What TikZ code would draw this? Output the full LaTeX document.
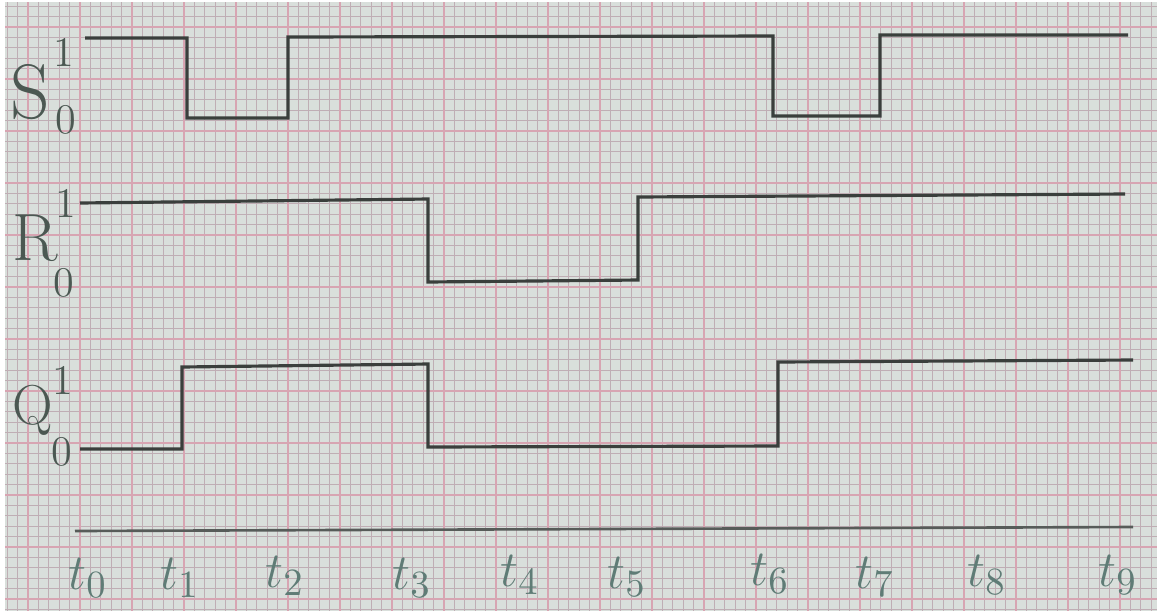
\documentclass[tikz,border=0pt]{standalone}
\usepackage{tikz}
\usetikzlibrary{positioning}
\definecolor{Paper}{HTML}{D9DFDB}
\definecolor{GridFine}{HTML}{BFAEB4}
\definecolor{GridBold}{HTML}{D7A5B2}
\definecolor{Ink}{HTML}{3A3F3C}
\definecolor{LabelInk}{HTML}{4B5852}
\definecolor{TimeInk}{HTML}{5F7C76}

\begin{document}
\begin{tikzpicture}[
  x=0.01cm, y=-0.01cm,
  wave/.style={line width=0.9pt, Ink, line join=miter},
  axisline/.style={line width=0.75pt, Ink!85},
  signame/.style={LabelInk, inner sep=0pt},
  level/.style={font=\fontsize{12}{12}\selectfont, LabelInk, inner sep=0pt},
  tick/.style={font=\fontsize{15}{15}\selectfont, TimeInk, inner sep=0pt}
]
\useasboundingbox (0,0) rectangle (1157,611);
\fill[white] (0,0) rectangle (1157,611);
\fill[Paper] (5,2) rectangle (1157,611);

% graph paper
\foreach \i in {0,...,110}
  \draw[GridFine, line width=0.3pt] ({7.2+10.4*\i},2) -- ++(0,609);
\foreach \j in {0,...,58}
  \draw[GridFine, line width=0.3pt] (5,{6.2+10.4*\j}) -- ++(1152,0);
\foreach \x in {28,80,...,1150}
  \draw[GridBold, line width=0.5pt] (\x,2) -- ++(0,609);
\foreach \y in {27,79,...,600}
  \draw[GridBold, line width=0.5pt] (5,\y) -- ++(1152,0);

% signal names and levels
\node[signame, font=\fontsize{22}{22}\selectfont] (S) at (30,92) {S};
\node[level] (S1) at (64,52) {1};
\node[level] (S0) at (66,120) {0};

\node[signame, font=\fontsize{19}{19}\selectfont] (R) at (35,238) {R};
\node[level] (R1) at (66,203) {1};
\node[level] (R0) at (64,283) {0};

\node[signame, font=\fontsize{16}{16}\selectfont] (Q) at (33,410) {Q};
\node[level] (Q1) at (63,380) {1};
\node[level] (Q0) at (62,452) {0};

% waveforms
\draw[wave] (85,38) -- (187,38) -- (187,118) -- (288,118) -- (288,37)
  -- (773,36) -- (773,116) -- (880,116) -- (880,35) -- (1128,35);
\draw[wave] (80,203) -- (428,199) -- (428,282) -- (638,280) -- (638,197)
  -- (1125,194);
\draw[wave] (80,449) -- (182,449) -- (182,367) -- (428,364) -- (428,447)
  -- (778,446) -- (778,362) -- (1133,360);

% time axis
\draw[axisline] (75,531) -- (1133,527);

\node[tick] (t0) at (88,578) {$t_0$};
\node[tick] (t1) at (180,578) {$t_1$};
\node[tick] (t2) at (285,576) {$t_2$};
\node[tick] (t3) at (412,578) {$t_3$};
\node[tick] (t4) at (520,575) {$t_4$};
\node[tick] (t5) at (627,577) {$t_5$};
\node[tick] (t6) at (770,574) {$t_6$};
\node[tick] (t7) at (875,577) {$t_7$};
\node[tick] (t8) at (987,575) {$t_8$};
\node[tick] (t9) at (1118,575) {$t_9$};
\end{tikzpicture}
\end{document}
